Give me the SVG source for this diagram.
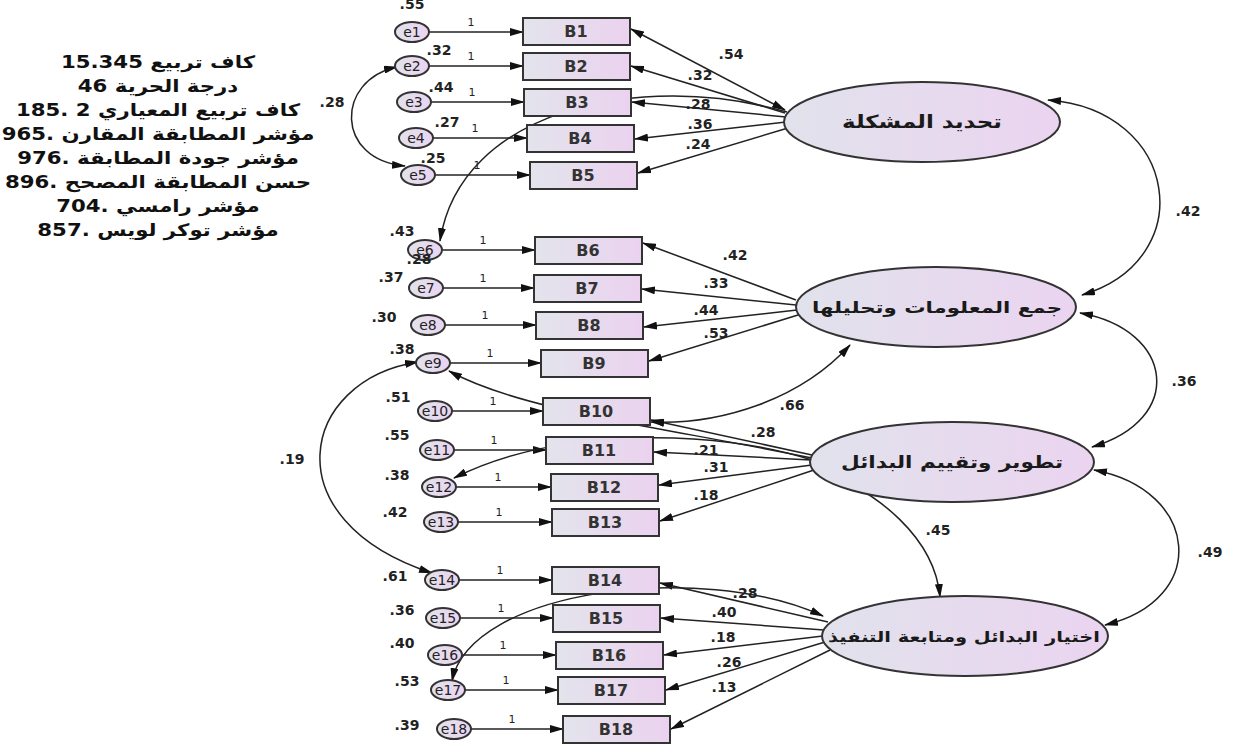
<svg xmlns="http://www.w3.org/2000/svg" width="1235" height="745" viewBox="0 0 1235 745">
<defs>
<linearGradient id="gBox" x1="0" x2="1" y1="0" y2="0"><stop offset="0" stop-color="#e3e4ec"/><stop offset="1" stop-color="#ebd2ef"/></linearGradient>
<linearGradient id="gEll" x1="0" x2="1" y1="0" y2="0"><stop offset="0" stop-color="#e1e2ec"/><stop offset="1" stop-color="#ebd4f0"/></linearGradient>
<marker id="ah" viewBox="0 0 14 8" markerWidth="14" markerHeight="8" refX="13" refY="4" orient="auto-start-reverse" markerUnits="userSpaceOnUse"><path d="M0,0 L14,4 L0,8 Z" fill="#111"/></marker>
</defs>
<style>
.box{fill:url(#gBox);stroke:#333;stroke-width:2}
.err{fill:url(#gEll);stroke:#333;stroke-width:2}
.lat{fill:url(#gEll);stroke:#333;stroke-width:2}
.ln{fill:none;stroke:#222;stroke-width:1.5}
.a{marker-end:url(#ah)}
.b{marker-start:url(#ah);marker-end:url(#ah)}
.num{font-family:"DejaVu Sans",sans-serif;font-weight:bold;font-size:14px;fill:#222;text-anchor:middle}
.one{font-family:"DejaVu Sans",sans-serif;font-size:11px;fill:#222;text-anchor:middle}
.bl{font-family:"DejaVu Sans",sans-serif;font-weight:bold;font-size:16px;fill:#333;text-anchor:middle}
.el{font-family:"DejaVu Sans",sans-serif;font-size:14px;fill:#222;text-anchor:middle}
.ar{font-family:"DejaVu Sans",sans-serif;font-weight:bold;fill:#1a1a1a;text-anchor:middle}
.st{font-family:"DejaVu Sans",sans-serif;font-weight:bold;font-size:17px;fill:#111;text-anchor:middle}
</style>
<rect width="1235" height="745" fill="#ffffff"/>

<g id="fit-stats" transform="translate(158,0) scale(1.25,1)">
<text class="st" x="0" y="68" direction="rtl">كاف تربيع &#x2066;15.345&#x2069;</text>
<text class="st" x="0" y="92" direction="rtl">درجة الحرية &#x2066;46&#x2069;</text>
<text class="st" x="0" y="116" direction="rtl">كاف تربيع المعياري &#x2066;185. 2&#x2069;</text>
<text class="st" x="0" y="140" direction="rtl">مؤشر المطابقة المقارن &#x2066;965.&#x2069;</text>
<text class="st" x="0" y="164" direction="rtl">مؤشر جودة المطابقة &#x2066;976.&#x2069;</text>
<text class="st" x="0" y="188" direction="rtl">حسن المطابقة المصحح &#x2066;896.&#x2069;</text>
<text class="st" x="0" y="212" direction="rtl">مؤشر رامسي &#x2066;704.&#x2069;</text>
<text class="st" x="0" y="236" direction="rtl">مؤشر توكر لويس &#x2066;857.&#x2069;</text>
</g>

<g id="connectors">
<path class="ln a" d="M429,32 H523"/>
<path class="ln a" d="M429,66 H523"/>
<path class="ln a" d="M431,102 H524"/>
<path class="ln a" d="M433,138 H527"/>
<path class="ln a" d="M435,175 H530"/>
<path class="ln a" d="M442,250 H535"/>
<path class="ln a" d="M443,288 H534"/>
<path class="ln a" d="M445,325 H536"/>
<path class="ln a" d="M450,363 H541"/>
<path class="ln a" d="M452,411 H543"/>
<path class="ln a" d="M454,450 H546"/>
<path class="ln a" d="M456,487 H551"/>
<path class="ln a" d="M458,522 H552"/>
<path class="ln a" d="M459,580 H552"/>
<path class="ln a" d="M460,618 H553"/>
<path class="ln a" d="M462,655 H556"/>
<path class="ln a" d="M465,690 H558"/>
<path class="ln a" d="M471,729 H563"/>
<path class="ln b" d="M785,110 L631,29"/>
<path class="ln a" d="M785,113 L631,66"/>
<path class="ln a" d="M786,117 L632,102"/>
<path class="ln a" d="M786,122 L635,139"/>
<path class="ln a" d="M788,128 L638,173"/>
<path class="ln a" d="M796,300 L643,243"/>
<path class="ln a" d="M796,305 L642,289"/>
<path class="ln a" d="M797,310 L644,327"/>
<path class="ln a" d="M798,315 L649,361"/>
<path class="ln a" d="M812,455 L651,420"/>
<path class="ln a" d="M811,460 L654,452"/>
<path class="ln a" d="M812,465 L659,485"/>
<path class="ln a" d="M814,470 L660,521"/>
<path class="ln a" d="M828,622 L660,583"/>
<path class="ln a" d="M824,630 L661,618"/>
<path class="ln a" d="M823,636 L664,655"/>
<path class="ln a" d="M825,642 L666,690"/>
<path class="ln a" d="M830,650 L671,729"/>
<path class="ln b" d="M397,67 C335,80 335,160 405,166"/>
<path class="ln b" d="M418,362 C300,380 270,520 432,573"/>
<path class="ln a" d="M787,112 C640,70 460,110 440,241"/>
<path class="ln a" d="M812,458 C650,425 520,410 449,371"/>
<path class="ln a" d="M812,460 C720,430 560,425 454,478"/>
<path class="ln b" d="M651,422 C720,425 800,400 850,345"/>
<path class="ln a" d="M812,468 C880,490 935,540 940,597"/>
<path class="ln b" d="M452,681 C470,590 700,560 823,616"/>
<path class="ln b" d="M1048,100 C1180,110 1200,260 1082,295"/>
<path class="ln b" d="M1080,313 C1175,330 1185,420 1092,447"/>
<path class="ln b" d="M1094,470 C1200,490 1210,600 1105,625"/>
<text class="one" x="471" y="26">1</text>
<text class="one" x="471" y="60">1</text>
<text class="one" x="472" y="96">1</text>
<text class="one" x="475" y="132">1</text>
<text class="one" x="477" y="169">1</text>
<text class="one" x="483" y="244">1</text>
<text class="one" x="483" y="282">1</text>
<text class="one" x="485" y="319">1</text>
<text class="one" x="490" y="357">1</text>
<text class="one" x="493" y="405">1</text>
<text class="one" x="494" y="444">1</text>
<text class="one" x="498" y="481">1</text>
<text class="one" x="499" y="516">1</text>
<text class="one" x="500" y="574">1</text>
<text class="one" x="501" y="612">1</text>
<text class="one" x="503" y="649">1</text>
<text class="one" x="506" y="684">1</text>
<text class="one" x="512" y="723">1</text>
<text class="num" x="731" y="59">.54</text>
<text class="num" x="700" y="80">.32</text>
<text class="num" x="698" y="109">.28</text>
<text class="num" x="700" y="129">.36</text>
<text class="num" x="698" y="149">.24</text>
<text class="num" x="735" y="260">.42</text>
<text class="num" x="716" y="288">.33</text>
<text class="num" x="706" y="315">.44</text>
<text class="num" x="716" y="338">.53</text>
<text class="num" x="792" y="410">.66</text>
<text class="num" x="763" y="437">.28</text>
<text class="num" x="706" y="455">.21</text>
<text class="num" x="716" y="472">.31</text>
<text class="num" x="706" y="500">.18</text>
<text class="num" x="938" y="535">.45</text>
<text class="num" x="745" y="598">.28</text>
<text class="num" x="724" y="617">.40</text>
<text class="num" x="723" y="642">.18</text>
<text class="num" x="729" y="667">.26</text>
<text class="num" x="724" y="692">.13</text>
<text class="num" x="1188" y="216">.42</text>
<text class="num" x="1184" y="386">.36</text>
<text class="num" x="1210" y="557">.49</text>
<text class="num" x="332" y="107">.28</text>
<text class="num" x="292" y="464">.19</text>
</g>

<g id="e1"><ellipse class="err" cx="412" cy="32" rx="17" ry="10"/><text class="el" x="412" y="37">e1</text><text class="num" x="412" y="9">.55</text></g>
<g id="e2"><ellipse class="err" cx="412" cy="66" rx="17" ry="10"/><text class="el" x="412" y="71">e2</text><text class="num" x="439" y="55">.32</text></g>
<g id="e3"><ellipse class="err" cx="414" cy="102" rx="17" ry="10"/><text class="el" x="414" y="107">e3</text><text class="num" x="441" y="92">.44</text></g>
<g id="e4"><ellipse class="err" cx="416" cy="138" rx="17" ry="10"/><text class="el" x="416" y="143">e4</text><text class="num" x="447" y="127">.27</text></g>
<g id="e5"><ellipse class="err" cx="418" cy="175" rx="17" ry="10"/><text class="el" x="418" y="180">e5</text><text class="num" x="433" y="163">.25</text></g>
<g id="e6"><ellipse class="err" cx="425" cy="250" rx="17" ry="10"/><text class="num" x="419" y="264">.28</text><text class="el" x="425" y="255">e6</text><text class="num" x="402" y="236">.43</text></g>
<g id="e7"><ellipse class="err" cx="426" cy="288" rx="17" ry="10"/><text class="el" x="426" y="293">e7</text><text class="num" x="391" y="282">.37</text></g>
<g id="e8"><ellipse class="err" cx="428" cy="325" rx="17" ry="10"/><text class="el" x="428" y="330">e8</text><text class="num" x="384" y="322">.30</text></g>
<g id="e9"><ellipse class="err" cx="433" cy="363" rx="17" ry="10"/><text class="el" x="433" y="368">e9</text><text class="num" x="402" y="354">.38</text></g>
<g id="e10"><ellipse class="err" cx="435" cy="411" rx="17" ry="10"/><text class="el" x="435" y="416">e10</text><text class="num" x="398" y="402">.51</text></g>
<g id="e11"><ellipse class="err" cx="437" cy="450" rx="17" ry="10"/><text class="el" x="437" y="455">e11</text><text class="num" x="397" y="440">.55</text></g>
<g id="e12"><ellipse class="err" cx="439" cy="487" rx="17" ry="10"/><text class="el" x="439" y="492">e12</text><text class="num" x="397" y="480">.38</text></g>
<g id="e13"><ellipse class="err" cx="441" cy="522" rx="17" ry="10"/><text class="el" x="441" y="527">e13</text><text class="num" x="395" y="517">.42</text></g>
<g id="e14"><ellipse class="err" cx="442" cy="580" rx="17" ry="10"/><text class="el" x="442" y="585">e14</text><text class="num" x="395" y="581">.61</text></g>
<g id="e15"><ellipse class="err" cx="443" cy="618" rx="17" ry="10"/><text class="el" x="443" y="623">e15</text><text class="num" x="402" y="615">.36</text></g>
<g id="e16"><ellipse class="err" cx="445" cy="655" rx="17" ry="10"/><text class="el" x="445" y="660">e16</text><text class="num" x="402" y="648">.40</text></g>
<g id="e17"><ellipse class="err" cx="448" cy="690" rx="17" ry="10"/><text class="el" x="448" y="695">e17</text><text class="num" x="407" y="686">.53</text></g>
<g id="e18"><ellipse class="err" cx="454" cy="729" rx="17" ry="10"/><text class="el" x="454" y="734">e18</text><text class="num" x="407" y="730">.39</text></g>

<g id="B1"><rect class="box" x="523" y="18" width="107" height="27"/><text class="bl" x="576" y="37">B1</text></g>
<g id="B2"><rect class="box" x="523" y="53" width="107" height="27"/><text class="bl" x="576" y="72">B2</text></g>
<g id="B3"><rect class="box" x="524" y="89" width="107" height="27"/><text class="bl" x="577" y="108">B3</text></g>
<g id="B4"><rect class="box" x="527" y="125" width="107" height="27"/><text class="bl" x="580" y="144">B4</text></g>
<g id="B5"><rect class="box" x="530" y="162" width="107" height="27"/><text class="bl" x="583" y="181">B5</text></g>
<g id="B6"><rect class="box" x="535" y="237" width="107" height="27"/><text class="bl" x="588" y="256">B6</text></g>
<g id="B7"><rect class="box" x="534" y="275" width="107" height="27"/><text class="bl" x="587" y="294">B7</text></g>
<g id="B8"><rect class="box" x="536" y="312" width="107" height="27"/><text class="bl" x="589" y="331">B8</text></g>
<g id="B9"><rect class="box" x="541" y="350" width="107" height="27"/><text class="bl" x="594" y="369">B9</text></g>
<g id="B10"><rect class="box" x="543" y="398" width="107" height="27"/><text class="bl" x="596" y="417">B10</text></g>
<g id="B11"><rect class="box" x="546" y="437" width="107" height="27"/><text class="bl" x="599" y="456">B11</text></g>
<g id="B12"><rect class="box" x="551" y="474" width="107" height="27"/><text class="bl" x="604" y="493">B12</text></g>
<g id="B13"><rect class="box" x="552" y="509" width="107" height="27"/><text class="bl" x="605" y="528">B13</text></g>
<g id="B14"><rect class="box" x="552" y="567" width="107" height="27"/><text class="bl" x="605" y="586">B14</text></g>
<g id="B15"><rect class="box" x="553" y="605" width="107" height="27"/><text class="bl" x="606" y="624">B15</text></g>
<g id="B16"><rect class="box" x="556" y="642" width="107" height="27"/><text class="bl" x="609" y="661">B16</text></g>
<g id="B17"><rect class="box" x="558" y="677" width="107" height="27"/><text class="bl" x="611" y="696">B17</text></g>
<g id="B18"><rect class="box" x="563" y="716" width="107" height="27"/><text class="bl" x="616" y="735">B18</text></g>

<g id="F1"><ellipse class="lat" cx="922" cy="122" rx="138" ry="40"/><text class="ar" x="922" y="128" font-size="18" textLength="160" lengthAdjust="spacingAndGlyphs">تحديد المشكلة</text></g>
<g id="F2"><ellipse class="lat" cx="936" cy="307" rx="140" ry="40"/><text class="ar" x="937" y="313" font-size="16" textLength="250" lengthAdjust="spacingAndGlyphs">جمع المعلومات وتحليلها</text></g>
<g id="F3"><ellipse class="lat" cx="952" cy="462" rx="142" ry="40"/><text class="ar" x="952" y="468" font-size="17" textLength="222" lengthAdjust="spacingAndGlyphs">تطوير وتقييم البدائل</text></g>
<g id="F4"><ellipse class="lat" cx="965" cy="636" rx="143" ry="40"/><text class="ar" x="964" y="642" font-size="15" textLength="272" lengthAdjust="spacingAndGlyphs">اختيار البدائل ومتابعة التنفيذ</text></g>
</svg>
